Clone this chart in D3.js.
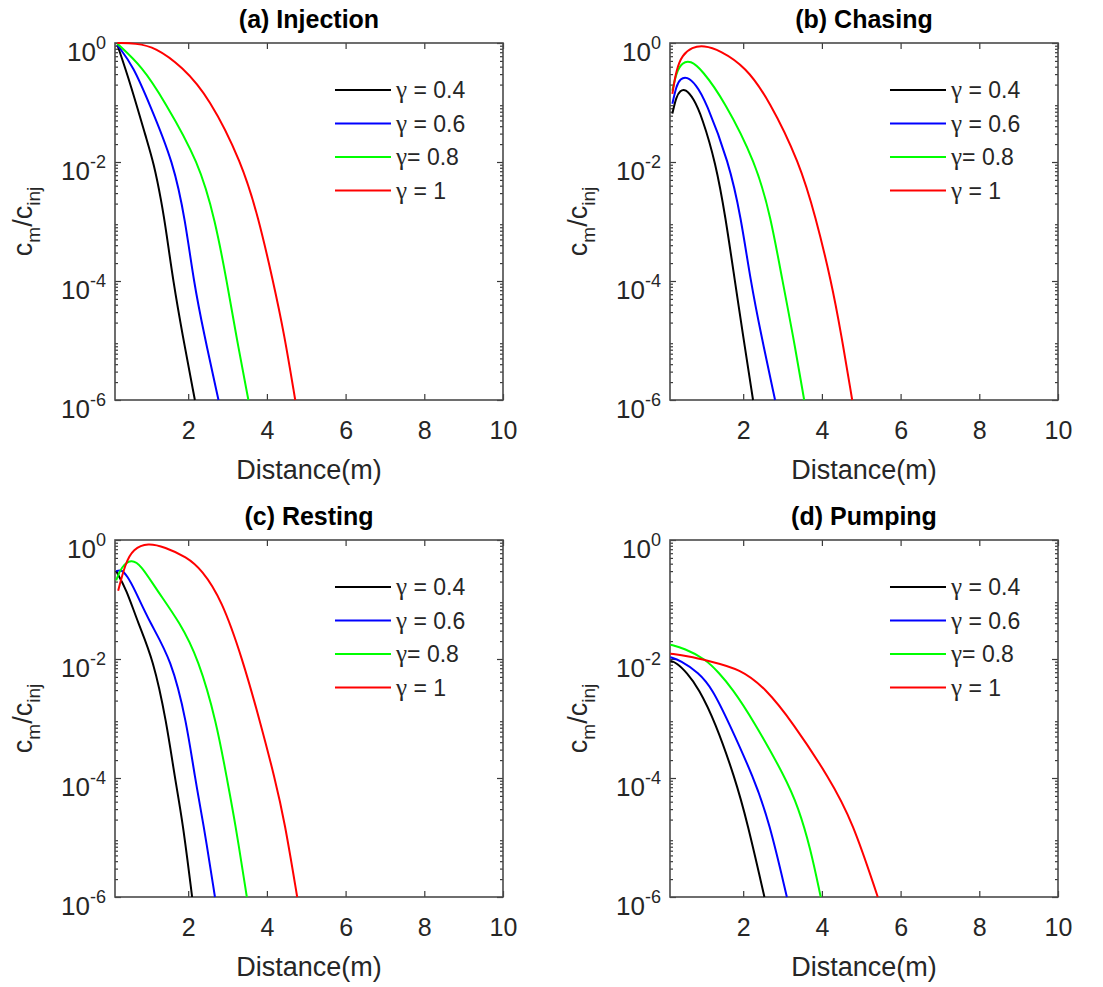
<!DOCTYPE html>
<html>
<head>
<meta charset="utf-8">
<script src="https://cdn.jsdelivr.net/npm/d3@7"></script>
<style>
  body { margin: 0; background: #fff; }
  text { font-family: "Liberation Sans", Arial, sans-serif; fill: #262626; }
</style>
</head>
<body>
<div id="chart"></div>
<script>
// ---- data: [distance (m), c_m/c_inj] ----
const panelTitles = ["(a) Injection", "(b) Chasing", "(c) Resting", "(d) Pumping"];
const gammaValues = ["0.4", "0.6", "0.8", "1"];
const seriesColors = ["#000000", "#0000ff", "#00ff00", "#ff0000"];
const xTickValues = [2, 4, 6, 8, 10];
const yExponents = [0, -2, -4, -6];

const injection04 = [[0.2,0.93],[0.53,0.21],[0.95,0.023],[1.12,0.0098],[1.32,0.0022],[1.45,6.3e-4],[1.62,9.8e-5],[1.85,1.3e-5],[2.17,1e-6]];
const injection06 = [[0.2,0.93],[0.61,0.40],[1.0,0.10],[1.63,0.0098],[1.93,0.001],[2.14,9.8e-5],[2.40,1.3e-5],[2.77,1e-6]];
const injection08 = [[0.2,0.97],[0.83,0.40],[1.38,0.11],[2.28,0.0098],[2.69,0.001],[2.98,1e-4],[3.21,1.3e-5],[3.53,1e-6]];
const injection10 = [[0.2,1.0],[0.66,0.99],[1.17,0.85],[1.85,0.40],[2.53,0.123],[3.36,0.0098],[3.78,0.0012],[4.16,9.8e-5],[4.44,1.3e-5],[4.72,1e-6]];

const chasing04 = [[0.2,0.065],[0.3,0.126],[0.4,0.158],[0.53,0.17],[0.74,0.117],[0.95,0.058],[1.30,0.0098],[1.55,0.0012],[1.79,9.8e-5],[1.99,1.3e-5],[2.25,1e-6]];
const chasing06 = [[0.2,0.095],[0.3,0.19],[0.4,0.25],[0.57,0.275],[0.8,0.20],[1.04,0.11],[1.64,0.0098],[1.94,0.0012],[2.19,9.8e-5],[2.45,1.3e-5],[2.81,1e-6]];
const chasing08 = [[0.2,0.158],[0.3,0.32],[0.45,0.47],[0.66,0.51],[0.95,0.355],[1.51,0.11],[2.32,0.0098],[2.70,0.0012],[3.0,9.8e-5],[3.26,1.3e-5],[3.55,1e-6]];
const chasing10 = [[0.2,0.14],[0.3,0.355],[0.45,0.63],[0.7,0.85],[1.0,0.91],[1.4,0.76],[2.06,0.40],[2.66,0.11],[3.43,0.0098],[3.84,0.0012],[4.24,9.8e-5],[4.49,1.3e-5],[4.77,1e-6]];

const resting04 = [[0.17,0.30],[0.43,0.148],[0.72,0.041],[1.11,0.01],[1.45,8.7e-4],[1.66,1e-4],[1.86,1.86e-5],[2.10,1e-6]];
const resting06 = [[0.17,0.30],[0.3,0.32],[0.45,0.25],[0.64,0.148],[1.02,0.041],[1.57,0.01],[1.96,8.7e-4],[2.17,1e-4],[2.38,1.86e-5],[2.68,1e-6]];
const resting08 = [[0.17,0.21],[0.3,0.355],[0.55,0.48],[0.8,0.38],[1.19,0.148],[1.79,0.041],[2.26,0.01],[2.72,8.7e-4],[2.98,1e-4],[3.19,1.86e-5],[3.49,1e-6]];
const resting10 = [[0.22,0.14],[0.4,0.40],[0.6,0.71],[0.98,0.90],[1.4,0.76],[1.96,0.52],[2.34,0.32],[2.85,0.10],[3.38,0.01],[3.83,8.7e-4],[4.20,1e-4],[4.45,1.86e-5],[4.77,1e-6]];

const pumping04 = [[0.15,0.0093],[0.3,0.0087],[0.57,0.0059],[0.87,0.0032],[1.29,8.7e-4],[1.79,1e-4],[2.10,1.86e-5],[2.54,1e-6]];
const pumping06 = [[0.15,0.0107],[0.4,0.0095],[0.87,0.0059],[1.21,0.0032],[1.63,8.7e-4],[2.27,1e-4],[2.66,1.86e-5],[3.11,1e-6]];
const pumping08 = [[0.15,0.0174],[0.5,0.0151],[1.04,0.01],[1.38,0.0059],[1.72,0.0032],[2.23,1.0e-3],[3.08,1e-4],[3.4,3.2e-5],[3.7,7e-6],[3.97,1e-6]];
const pumping10 = [[0.15,0.0123],[0.6,0.0112],[1.12,0.0093],[1.93,0.0068],[2.57,0.0032],[3.25,8.7e-4],[4.19,1e-4],[4.78,1.86e-5],[5.42,1e-6]];

const panelSeries = [
    [injection04, injection06, injection08, injection10],
    [chasing04, chasing06, chasing08, chasing10],
    [resting04, resting06, resting08, resting10],
    [pumping04, pumping06, pumping08, pumping10]
];

const xDomain = [0.14, 10];
const yDomain = [1e-6, 1];

class LogPanel {
    constructor(series, config) {
        this.series = series;
        this.config = {
            parentElement: config.parentElement,
            title: config.title,
            left: config.left,
            top: config.top,
            width: config.width || 388,
            height: config.height || 357
        };
        this.initViz();
    }

    initViz() {
        const that = this;
        const c = that.config;

        that.viz = c.parentElement.append('g')
            .attr('transform', `translate(${c.left},${c.top})`);

        that.xScale = d3.scaleLinear().domain(xDomain).range([0, c.width]);
        that.yScale = d3.scaleLog().domain(yDomain).range([c.height, 0]);

        that.renderViz();
    }

    renderViz() {
        const that = this;
        const c = that.config;
        const w = c.width, h = c.height;

        // minor ticks 2..9 in each decade
        const yMinor = [];
        for (let e = -6; e < 0; e++) {
            for (let m = 2; m <= 9; m++) yMinor.push(m * Math.pow(10, e));
        }
        const yMajor = yExponents.map(e => Math.pow(10, e));

        const styleAxis = g => {
            g.select('.domain').remove();
            g.attr('color', '#3a3a3a').selectAll('line').attr('stroke-width', 1.2);
        };

        that.viz.append('g')
            .attr('transform', `translate(0,${h})`)
            .call(d3.axisBottom(that.xScale).tickValues(xTickValues).tickSizeInner(-6).tickSizeOuter(0).tickPadding(21))
            .call(styleAxis)
            .call(g => g.selectAll('text').attr('font-size', 25).attr('font-family', null).style('fill', '#262626'));

        that.viz.append('g')
            .call(d3.axisTop(that.xScale).tickValues(xTickValues).tickSizeInner(-6).tickSizeOuter(0).tickFormat(''))
            .call(styleAxis);

        [[d3.axisLeft, 0], [d3.axisRight, w]].forEach(([axisFn, tx]) => {
            that.viz.append('g').attr('transform', `translate(${tx},0)`)
                .call(axisFn(that.yScale).tickValues(yMajor).tickSizeInner(-6).tickSizeOuter(0).tickFormat(''))
                .call(styleAxis);
            that.viz.append('g').attr('transform', `translate(${tx},0)`)
                .call(axisFn(that.yScale).tickValues(yMinor).tickSizeInner(-3).tickSizeOuter(0).tickFormat(''))
                .call(styleAxis);
        });

        // y tick labels 10^n
        const yLabels = that.viz.append('g').selectAll('text')
            .data(yExponents)
            .join('text')
            .attr('x', -9)
            .attr('y', e => that.yScale(Math.pow(10, e)) + 18)
            .attr('text-anchor', 'end')
            .attr('font-size', 26);
        yLabels.append('tspan').text('10');
        yLabels.append('tspan').attr('dy', -12).attr('font-size', 18).text(e => e);

        // frame
        that.viz.append('rect')
            .attr('width', w).attr('height', h)
            .attr('fill', 'none')
            .attr('stroke', '#4a4a4a')
            .attr('stroke-width', 1.6);

        const lineGenerator = d3.line()
            .x(d => that.xScale(d[0]))
            .y(d => that.yScale(d[1]))
            .curve(d3.curveBasis);

        that.viz.selectAll('path.series')
            .data(that.series)
            .join('path')
            .attr('class', 'series')
            .attr('d', lineGenerator)
            .attr('fill', 'none')
            .attr('stroke', (d, i) => seriesColors[i])
            .attr('stroke-width', 2);

        // legend
        const legend = that.viz.append('g').attr('transform', `translate(${w * 0.567},47)`);
        gammaValues.forEach((g, i) => {
            const row = legend.append('g').attr('transform', `translate(0,${i * 33.5})`);
            row.append('line')
                .attr('x1', 0).attr('x2', 56)
                .attr('stroke', seriesColors[i]).attr('stroke-width', 2);
            const t = row.append('text')
                .attr('x', 61).attr('y', 8)
                .attr('font-size', 23);
            t.append('tspan').attr('font-family', '"Liberation Serif", serif').attr('font-size', 25).text('γ');
            t.append('tspan').text((g === '0.8' ? '= ' : ' = ') + g);
        });

        // titles and axis labels
        that.viz.append('text')
            .attr('x', w / 2).attr('y', -15)
            .attr('text-anchor', 'middle')
            .attr('font-size', 25).attr('font-weight', 'bold')
            .style('fill', '#000')
            .text(c.title);

        that.viz.append('text')
            .attr('x', w / 2).attr('y', h + 79)
            .attr('text-anchor', 'middle')
            .attr('font-size', 27)
            .text('Distance(m)');

        const yl = that.viz.append('text')
            .attr('transform', `translate(-83,${h / 2}) rotate(-90)`)
            .attr('text-anchor', 'middle')
            .attr('font-size', 27);
        yl.append('tspan').text('c');
        yl.append('tspan').attr('dy', 8).attr('font-size', 19).text('m');
        yl.append('tspan').attr('dy', -8).text('/c');
        yl.append('tspan').attr('dy', 8).attr('font-size', 19).text('inj');
    }
}

const svg = d3.select('#chart').append('svg')
    .attr('width', 1103)
    .attr('height', 987);

const panelLeft = [115, 670];
const panelTop = [43, 540];

panelTitles.forEach((title, i) => {
    new LogPanel(panelSeries[i], {
        parentElement: svg,
        title: title,
        left: panelLeft[i % 2],
        top: panelTop[Math.floor(i / 2)]
    });
});
</script>
</body>
</html>
